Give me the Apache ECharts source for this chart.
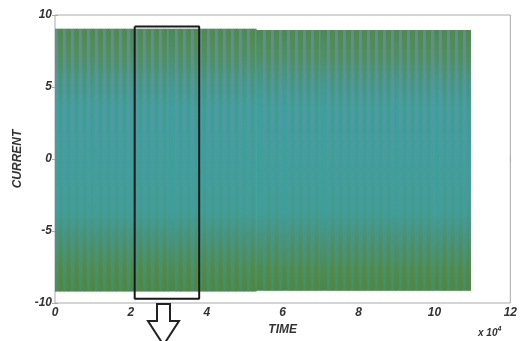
<!DOCTYPE html>
<html>
<head>
<meta charset="utf-8">
<script src="https://cdn.jsdelivr.net/npm/echarts@6/dist/echarts.min.js"></script>
<style>
  html, body { margin: 0; padding: 0; background: #fff; }
  #main { width: 520px; height: 341px; }
</style>
</head>
<body>
<div id="main"></div>
<script>
// envelope of the current signal (time in units of 1e4)
var timeK = [0, 1, 2, 3, 4, 5, 5.3, 6, 7, 8, 9, 10, 10.95];
var upper = [9.05, 9.05, 9.05, 9.05, 9.05, 9.05, 8.95, 8.95, 8.95, 8.95, 8.95, 8.95, 8.95];
var lower = [-9.2, -9.2, -9.2, -9.2, -9.2, -9.2, -9.15, -9.15, -9.15, -9.15, -9.15, -9.15, -9.15];
var xTicks = [0, 2, 4, 6, 8, 10, 12];
var yTicks = [-10, -5, 0, 5, 10];
// zoom window drawn on the plot
var zoomBox = [[2.1, 9.2], [3.8, 9.2], [3.8, -9.7], [2.1, -9.7], [2.1, 9.2]];

var segs = [];
for (var i = 0; i < timeK.length - 1; i++) {
    segs.push([timeK[i], timeK[i + 1], upper[i], lower[i]]);
}

var font = 'Liberation Sans';

function bandItem(params, api) {
    var a = api.coord([api.value(0), api.value(2)]);
    var b = api.coord([api.value(1), api.value(3)]);
    var origin = api.coord([0, 0])[0];
    var x0 = a[0], x1 = b[0], y0 = a[1], y1 = b[1];
    var h = y1 - y0;
    var kids = [{
        type: 'rect',
        shape: { x: x0, y: y0, width: x1 - x0 + 0.5, height: h },
        style: {
            fill: new echarts.graphic.LinearGradient(0, 0, 0, 1, [
                { offset: 0, color: '#4b8956' },
                { offset: 0.1, color: '#4e9066' },
                { offset: 0.2, color: '#45988c' },
                { offset: 0.3, color: '#3e9f9d' },
                { offset: 0.7, color: '#3f9e98' },
                { offset: 0.8, color: '#47937c' },
                { offset: 0.92, color: '#4d8b52' },
                { offset: 1, color: '#4a8648' }
            ])
        }
    }];
    var period = 8;
    var k = Math.ceil((x0 - origin) / period);
    for (var px = origin + k * period; px < x1; px += period) {
        kids.push({
            type: 'rect',
            shape: { x: px, y: y0, width: Math.min(3, x1 - px), height: h },
            style: {
                fill: new echarts.graphic.LinearGradient(0, 0, 0, 1, [
                    { offset: 0, color: 'rgba(120,140,175,0.6)' },
                    { offset: 0.3, color: 'rgba(120,140,175,0.4)' },
                    { offset: 0.5, color: 'rgba(120,140,175,0.2)' },
                    { offset: 0.7, color: 'rgba(80,150,150,0.35)' },
                    { offset: 1, color: 'rgba(60,150,140,0.5)' }
                ])
            }
        });
        kids.push({
            type: 'rect',
            shape: { x: px + 4, y: y0, width: Math.max(0, Math.min(3, x1 - px - 4)), height: h },
            style: {
                fill: new echarts.graphic.LinearGradient(0, 0, 0, 1, [
                    { offset: 0, color: 'rgba(90,140,60,0.5)' },
                    { offset: 0.25, color: 'rgba(90,140,60,0.2)' },
                    { offset: 0.5, color: 'rgba(110,130,150,0.15)' },
                    { offset: 0.75, color: 'rgba(100,130,60,0.2)' },
                    { offset: 1, color: 'rgba(100,130,50,0.5)' }
                ])
            }
        });
    }
    return { type: 'group', children: kids };
}

var labelStyle = { color: '#333', fontFamily: font, fontWeight: 'bold', fontStyle: 'italic', fontSize: 12 };

var option = {
    animation: false,
    grid: { left: 55, right: 8, top: 15, bottom: 38, show: true, borderColor: '#aaa', borderWidth: 1 },
    xAxis: [{
        type: 'value', min: 0, max: 12, interval: 2,
        name: 'TIME', nameLocation: 'middle', nameGap: 18,
        nameTextStyle: labelStyle,
        axisLine: { show: false },
        axisTick: { inside: true, length: 3, lineStyle: { color: '#aaa' } },
        axisLabel: Object.assign({ margin: 4, formatter: function (v) { return xTicks.indexOf(v) >= 0 ? v : ''; } }, labelStyle),
        splitLine: { show: false }
    }, {
        type: 'value', min: 0, max: 12, interval: 2, position: 'top',
        axisLine: { show: false },
        axisTick: { inside: true, length: 3, lineStyle: { color: '#aaa' } },
        axisLabel: { show: false }, splitLine: { show: false }
    }],
    yAxis: [{
        type: 'value', min: -10, max: 10, interval: 5,
        name: 'CURRENT', nameLocation: 'middle', nameGap: 29,
        nameTextStyle: labelStyle,
        axisLine: { show: false },
        axisTick: { inside: true, length: 3, lineStyle: { color: '#aaa' } },
        axisLabel: Object.assign({ margin: 3, formatter: function (v) { return yTicks.indexOf(v) >= 0 ? v : ''; } }, labelStyle),
        splitLine: { show: false }
    }, {
        type: 'value', min: -10, max: 10, interval: 5, position: 'right',
        axisLine: { show: false },
        axisTick: { inside: true, length: 3, lineStyle: { color: '#aaa' } },
        axisLabel: { show: false }, splitLine: { show: false }
    }],
    series: [{
        type: 'custom',
        renderItem: bandItem,
        encode: { x: [0, 1], y: [2, 3] },
        data: segs,
        silent: true
    }, {
        type: 'line',
        data: zoomBox,
        symbol: 'none',
        lineStyle: { color: '#1a1a1a', width: 2 },
        silent: true
    }],
    graphic: [{
        type: 'polygon',
        shape: { points: [[157, 304], [170, 304], [170, 321], [179, 321], [163.5, 345], [148, 321], [157, 321]] },
        style: { fill: '#fff', stroke: '#222', lineWidth: 2 }
    }, {
        type: 'text',
        left: 478, top: 326,
        style: {
            text: 'x 10{s|4}',
            rich: { s: { fontSize: 7, fontFamily: font, fontWeight: 'bold', fontStyle: 'italic', verticalAlign: 'top', padding: [0, 0, 8, 0], fill: '#333' } },
            fill: '#333', font: 'italic bold 10px "Liberation Sans"'
        }
    }]
};

var myChart = echarts.init(document.getElementById('main'));
myChart.setOption(option);
</script>
</body>
</html>
